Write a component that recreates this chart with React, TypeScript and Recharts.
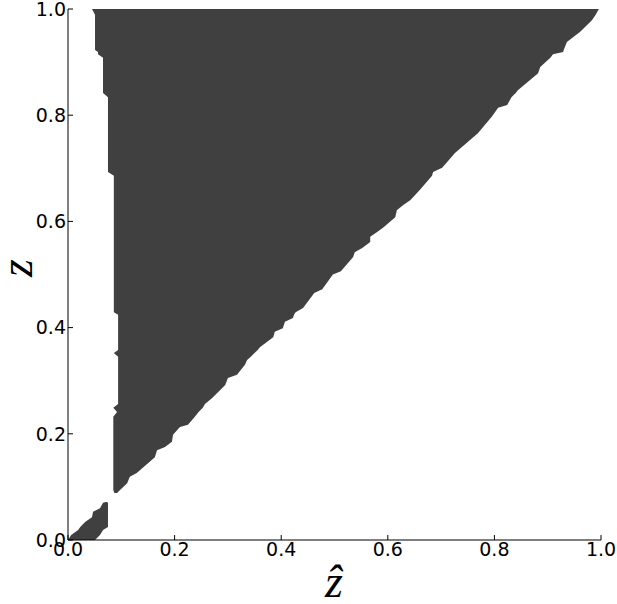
import React from 'react';
import { AreaChart, Area, XAxis, YAxis } from 'recharts';

const xTicks = [0, 0.2, 0.4, 0.6, 0.8, 1.0];
const yTicks = [0, 0.2, 0.4, 0.6, 0.8, 1.0];

// Main dark region: for each z, the filled span of z-hat [left, right]
const mainZ = [
  0.0885, 0.094, 0.107, 0.119, 0.126, 0.156, 0.169, 0.175, 0.185, 0.198,
  0.213, 0.217, 0.232, 0.241, 0.249, 0.256, 0.267, 0.292, 0.305, 0.311,
  0.330, 0.339, 0.345, 0.352, 0.358, 0.363, 0.382, 0.392, 0.399, 0.411,
  0.418, 0.424, 0.429, 0.437, 0.465, 0.472, 0.500, 0.506, 0.533, 0.542,
  0.550, 0.561, 0.571, 0.580, 0.588, 0.608, 0.621, 0.631, 0.640, 0.659,
  0.686, 0.693, 0.701, 0.729, 0.766, 0.797, 0.814, 0.819, 0.834, 0.842,
  0.847, 0.879, 0.891, 0.908, 0.915, 0.919, 0.923, 0.938, 0.957, 0.979,
  0.989, 1.0,
];
const mainLeft = [
  0.087, 0.085, 0.085, 0.085, 0.085, 0.085, 0.085, 0.085, 0.085, 0.085,
  0.085, 0.085, 0.085, 0.092, 0.085, 0.094, 0.094, 0.094, 0.094, 0.094,
  0.094, 0.094, 0.094, 0.086, 0.094, 0.094, 0.094, 0.094, 0.094, 0.094,
  0.094, 0.094, 0.086, 0.086, 0.086, 0.086, 0.086, 0.086, 0.086, 0.086,
  0.086, 0.086, 0.086, 0.086, 0.086, 0.086, 0.086, 0.086, 0.086, 0.086,
  0.086, 0.075, 0.075, 0.075, 0.075, 0.075, 0.075, 0.075, 0.075, 0.0657,
  0.0657, 0.0657, 0.0657, 0.0657, 0.0563, 0.0563, 0.0507, 0.0507, 0.0507, 0.0507,
  0.0507, 0.045,
];
const mainRight = [
  0.092, 0.0976, 0.111, 0.116, 0.129, 0.163, 0.167, 0.182, 0.195, 0.197,
  0.210, 0.225, 0.238, 0.245, 0.253, 0.257, 0.270, 0.295, 0.300, 0.317,
  0.332, 0.336, 0.343, 0.350, 0.356, 0.360, 0.385, 0.388, 0.403, 0.407,
  0.422, 0.424, 0.427, 0.441, 0.462, 0.477, 0.497, 0.512, 0.535, 0.538,
  0.552, 0.567, 0.567, 0.580, 0.591, 0.614, 0.617, 0.629, 0.642, 0.660,
  0.683, 0.685, 0.702, 0.726, 0.769, 0.795, 0.807, 0.824, 0.832, 0.840,
  0.844, 0.882, 0.886, 0.905, 0.910, 0.929, 0.930, 0.936, 0.961, 0.983,
  0.990, 0.996,
];

// Small region near the origin
const blobZ = [0, 0.0094, 0.0188, 0.0245, 0.034, 0.043, 0.053, 0.060, 0.070, 0.0716];
const blobLeft = [0.0, 0.006, 0.019, 0.023, 0.032, 0.045, 0.047, 0.060, 0.0657, 0.071];
const blobRight = [0.0507, 0.060, 0.0657, 0.075, 0.075, 0.075, 0.075, 0.075, 0.075, 0.073];

const mainData = mainZ.map((z, i) => ({ z, span: [mainLeft[i], mainRight[i]] }));
const blobData = blobZ.map((z, i) => ({ z, span: [blobLeft[i], blobRight[i]] }));

const FILL = '#404040';
const tickStyle = { fill: '#000', fontSize: 19, fontFamily: 'DejaVu Sans' };
const fmt = (v: number) => v.toFixed(1);
const blank = () => '';
const LABEL_FONT = 'Liberation Serif, DejaVu Serif, serif';

export default function App() {
  return (
    <div style={{ position: 'absolute', left: 0, top: 0 }}>
      <AreaChart
        width={617}
        height={604}
        layout="vertical"
        margin={{ top: 9, right: 16, bottom: 0, left: 0 }}
      >
        <XAxis
          xAxisId="b"
          type="number"
          domain={[0, 1]}
          ticks={xTicks}
          orientation="bottom"
          height={64}
          tickSize={-5}
          tickMargin={8}
          tickFormatter={fmt}
          tick={tickStyle}
          stroke="#000"
          interval={0}
          label={{
            content: () => (
              <text
                x={334}
                y={597}
                textAnchor="middle"
                fontFamily={LABEL_FONT}
                fontStyle="italic"
                fontSize={46}
                fill="#000"
              >
                {'\u1E91'}
              </text>
            ),
          }}
        />
        <XAxis
          xAxisId="t"
          type="number"
          domain={[0, 1]}
          ticks={xTicks}
          orientation="top"
          height={0}
          tickSize={-5}
          tickFormatter={blank}
          stroke="#000"
          interval={0}
        />
        <YAxis
          yAxisId="l"
          type="number"
          dataKey="z"
          domain={[0, 1]}
          ticks={yTicks}
          reversed
          width={68}
          tickSize={-5}
          tickMargin={7}
          tickFormatter={fmt}
          tick={tickStyle}
          stroke="#000"
          interval={0}
          label={{
            content: () => (
              <text
                x={32}
                y={268}
                transform="rotate(-90 32 268)"
                textAnchor="middle"
                fontFamily={LABEL_FONT}
                fontStyle="italic"
                fontSize={46}
                fill="#000"
              >
                z
              </text>
            ),
          }}
        />
        <YAxis
          yAxisId="r"
          type="number"
          dataKey="z"
          domain={[0, 1]}
          ticks={yTicks}
          reversed
          orientation="right"
          width={0}
          tickSize={-5}
          tickFormatter={blank}
          stroke="#000"
          interval={0}
        />
        <Area
          xAxisId="b"
          yAxisId="l"
          data={mainData}
          dataKey="span"
          type="linear"
          fill={FILL}
          fillOpacity={1}
          stroke="none"
          isAnimationActive={false}
        />
        <Area
          xAxisId="b"
          yAxisId="l"
          data={blobData}
          dataKey="span"
          type="linear"
          fill={FILL}
          fillOpacity={1}
          stroke="none"
          isAnimationActive={false}
        />
      </AreaChart>
    </div>
  );
}
